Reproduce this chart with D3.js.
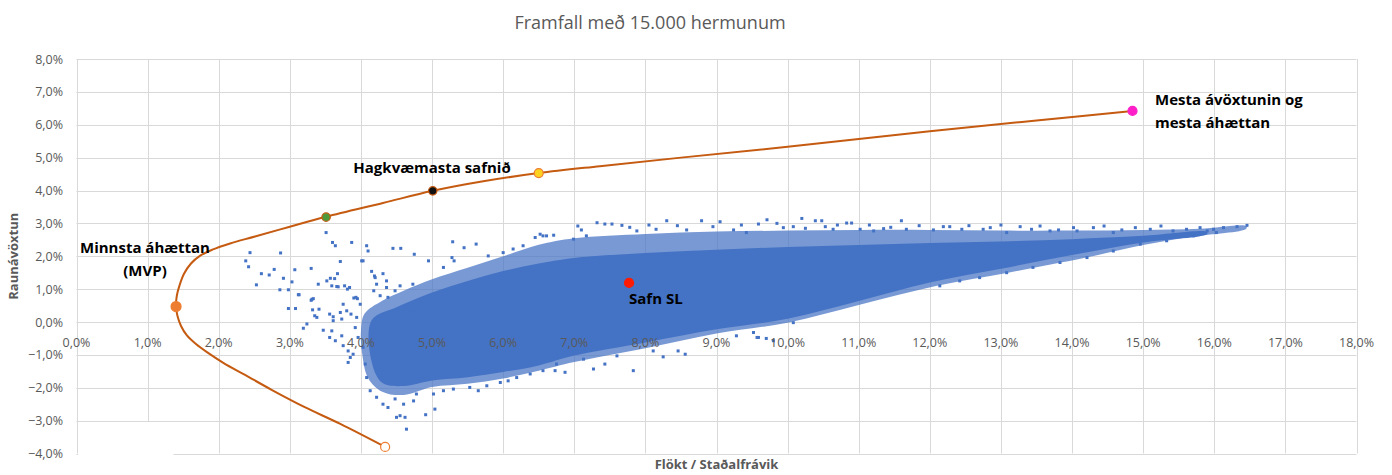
<!DOCTYPE html>
<html>
  <head>
    <meta charset="utf-8" />
    <script src="https://cdn.jsdelivr.net/npm/d3@7"></script>
    <style>
      body {
        margin: 0;
        background: #ffffff;
      }
      svg text {
        font-family: "Open Sans", "Noto Sans", sans-serif;
      }
      .tick-label {
        font-size: 12.5px;
        fill: #595959;
      }
      .axis-title {
        font-size: 13px;
        font-weight: bold;
        fill: #595959;
      }
      .note {
        font-size: 15px;
        font-weight: bold;
        fill: #000000;
      }
    </style>
  </head>
  <body>
    <svg id="chart" width="1392" height="475"></svg>

    <script>
      // ticks (percent)
      const xTicks = d3.range(0, 19);
      const yTicks = d3.range(-4, 9);

      // efficient frontier: lower end -> MVP -> top right
      const frontier = [
        [4.34, -3.80], [3.71, -3.10], [3.21, -2.59], [2.75, -2.07], [2.37, -1.61],
        [2.07, -1.25], [1.85, -0.94], [1.68, -0.67], [1.55, -0.40], [1.47, -0.12],
        [1.42, 0.18], [1.40, 0.47], [1.41, 0.79], [1.45, 1.12], [1.51, 1.46],
        [1.61, 1.78], [1.74, 2.02], [1.91, 2.20], [2.16, 2.39], [2.51, 2.60],
        [3.00, 2.90], [3.51, 3.20], [4.31, 3.62], [5.01, 3.99], [5.72, 4.28],
        [6.50, 4.53], [7.36, 4.74], [8.50, 5.00], [10.0, 5.33], [12.0, 5.80],
        [13.5, 6.13], [14.85, 6.42]
      ];

      // highlighted portfolios
      const markers = [
        { key: "mvp", x: 1.40, y: 0.47 },
        { key: "green", x: 3.51, y: 3.19 },
        { key: "best", x: 5.01, y: 3.99 },
        { key: "yellow", x: 6.50, y: 4.53 },
        { key: "max", x: 14.85, y: 6.42 },
        { key: "end", x: 4.34, y: -3.80 },
        { key: "sl", x: 7.77, y: 1.19 }
      ];

      // simulated portfolios: outline of the busy part of the cloud
      const cloudOuter = [
        [4.05, 0.25], [4.3, 0.65], [4.6, 0.95], [5.0, 1.3], [5.5, 1.65], [6.0, 2.0],
        [6.5, 2.35], [7.0, 2.55], [8.0, 2.68], [9.0, 2.75], [10.0, 2.78], [11.0, 2.8],
        [12.0, 2.8], [13.0, 2.78], [14.0, 2.78], [15.0, 2.8], [15.8, 2.84], [16.45, 2.92],
        [16.45, 2.84], [15.7, 2.6], [15.0, 2.34], [14.2, 1.96], [13.1, 1.5], [12.1, 1.1],
        [11.0, 0.52], [10.0, -0.02], [9.0, -0.35], [8.0, -0.8], [7.0, -1.22], [6.5, -1.48],
        [6.0, -1.72], [5.5, -1.88], [5.0, -1.98], [4.6, -2.22], [4.3, -2.12], [4.1, -1.7],
        [4.02, -1.0], [4.0, -0.3]
      ];

      // and the nearly solid core of it
      const cloudCore = [
        [4.15, 0.05], [4.5, 0.45], [5.0, 0.9], [5.5, 1.25], [6.0, 1.55], [6.5, 1.78],
        [7.0, 1.95], [8.0, 2.1], [9.0, 2.2], [10.0, 2.28], [11.0, 2.34], [12.0, 2.4],
        [13.0, 2.45], [14.0, 2.52], [15.0, 2.62], [15.9, 2.74],
        [15.9, 2.68], [15.0, 2.42], [14.0, 2.04], [13.0, 1.62], [12.0, 1.2], [11.0, 0.64],
        [10.0, 0.1], [9.0, -0.22], [8.0, -0.62], [7.0, -1.02], [6.5, -1.32], [6.0, -1.52],
        [5.5, -1.68], [5.0, -1.78], [4.6, -1.95], [4.3, -1.85], [4.15, -1.2]
      ];

      // single portfolios outside the busy part
      const strayDots = [
        [2.44, 2.11], [2.38, 1.86], [2.42, 1.68], [2.53, 1.13], [2.60, 1.47], [2.71, 1.43],
        [2.78, 1.60], [2.87, 2.10], [2.91, 1.33], [2.86, 0.98], [2.98, 0.98], [3.03, 1.22],
        [3.07, 1.59], [3.12, 0.83], [2.98, 0.41], [3.08, 0.41], [3.30, 1.63], [3.40, 1.15],
        [3.33, 0.71], [3.30, 0.66], [3.32, 0.37], [3.35, 0.19], [3.41, 0.39], [3.24, -0.06],
        [3.19, -0.19], [3.52, 1.25], [3.57, 1.33], [3.63, 1.32], [3.67, 1.47], [3.59, 1.10],
        [3.66, 1.08], [3.71, 1.84], [3.84, 1.05], [3.90, 0.73], [3.95, 0.71], [3.99, 0.54],
        [4.01, 1.86], [4.10, 2.16], [4.19, 1.40], [4.22, 1.15], [4.31, 1.47], [4.36, 1.25],
        [4.18, 0.95], [4.27, 0.80], [4.36, 1.05], [4.48, 0.95], [4.55, 1.10], [3.56, 0.24],
        [3.61, 0.16], [3.73, 0.09], [3.59, -0.27], [3.56, -0.47], [3.64, -0.57], [3.47, -0.25],
        [3.73, -0.42], [3.75, -0.72], [3.82, -0.88], [3.85, -1.08], [3.89, -0.98], [3.82, -1.23],
        [3.75, 0.54], [3.80, 0.34], [3.94, 0.14], [3.92, -0.17], [3.96, -0.47], [4.03, -0.77],
        [4.06, -1.28], [4.08, -1.69], [4.13, -2.09], [4.22, -2.29], [4.31, -2.50], [4.38, -2.60],
        [4.50, -2.90], [4.55, -2.85], [4.62, -2.90], [4.64, -3.26], [4.48, -2.34], [4.60, -2.50],
        [4.74, -2.40], [4.78, -2.19], [4.91, -2.82], [5.04, -2.65], [5.02, -2.19], [5.16, -2.09],
        [5.30, -2.04], [5.53, -1.99], [5.65, -2.09], [5.77, -1.94], [5.96, -1.84], [6.07, -1.79],
        [6.19, -1.69], [6.38, -1.58], [6.56, -1.48], [3.51, 2.72], [3.60, 2.42], [3.64, 2.32],
        [3.87, 2.42], [4.08, 2.32], [4.45, 2.24], [4.56, 2.24], [4.75, 2.06], [4.95, 1.86],
        [5.29, 2.44], [5.45, 2.26], [5.62, 2.37], [5.31, 1.86], [5.16, 1.66], [5.28, 1.96],
        [5.79, 2.01], [6.00, 2.11], [6.14, 2.22], [6.28, 2.32], [6.45, 2.57], [6.56, 2.62],
        [4.03, 1.86], [4.15, 1.54], [4.20, 1.35], [4.38, 0.75], [4.73, 1.15], [4.67, 0.34],
        [4.76, 0.36], [3.93, 0.75], [3.71, 0.29], [3.86, 0.24], [3.61, 0.04], [3.77, 1.10],
        [3.81, 1.00], [3.68, 1.07], [3.13, 0.83], [3.31, 0.69], [3.38, 0.14],
        [7.32, 3.02], [7.43, 2.98], [7.53, 2.98], [7.67, 2.94], [8.30, 3.08], [8.79, 3.08],
        [9.05, 3.05], [9.71, 3.11], [10.20, 3.15], [10.39, 3.08], [10.48, 3.08], [10.83, 3.01],
        [10.90, 3.01], [11.60, 3.08], [12.19, 2.90], [12.28, 2.90], [7.10, 2.80], [7.17, 2.62],
        [6.99, 2.52], [6.71, 2.64], [6.61, 2.62], [7.88, 2.77], [8.58, 2.80], [9.24, 2.80],
        [9.42, 2.72], [9.59, 2.98], [9.94, 2.87], [10.08, 2.90], [10.53, 2.90], [10.64, 2.82],
        [11.02, 2.82], [11.21, 2.77], [11.35, 2.84], [11.67, 2.82], [12.05, 2.80], [6.52, 2.67],
        [12.45, 2.82], [12.75, 2.82], [12.85, 2.87], [13.08, 2.72], [13.27, 2.90], [13.43, 2.82],
        [13.69, 2.77], [13.81, 2.80], [14.02, 2.87], [14.07, 2.77], [14.30, 2.87], [14.58, 2.72],
        [14.70, 2.80], [14.89, 2.87], [15.10, 2.82], [15.42, 2.77], [15.61, 2.82], [15.80, 2.87],
        [15.99, 2.82], [16.13, 2.87], [16.32, 2.90], [16.46, 2.94], [15.90, 2.77],
        [7.05, 2.92], [7.78, 2.88], [8.05, 2.95], [8.45, 2.93], [8.95, 2.90], [9.35, 2.95],
        [9.85, 3.00], [10.70, 2.95], [11.15, 2.95], [11.85, 2.93], [12.55, 2.93], [13.0, 2.95],
        [13.55, 2.92], [14.45, 2.92], [15.25, 2.92], [8.15, 2.82], [10.25, 2.85], [11.45, 2.88],
        [12.14, 1.10], [12.42, 1.25], [12.70, 1.35], [13.08, 1.50], [13.45, 1.66], [13.83, 1.81],
        [14.21, 1.96], [14.58, 2.16], [14.96, 2.37], [15.33, 2.47], [15.71, 2.62], [16.03, 2.72],
        [6.73, -1.48], [6.87, -1.53], [6.75, -1.28], [7.13, -1.13], [7.27, -1.43], [7.43, -1.28],
        [7.83, -1.48], [7.60, -1.03], [8.25, -1.06], [8.11, -0.88], [8.56, -0.98], [8.46, -0.88],
        [9.28, -0.42], [9.57, -0.47], [9.70, -0.50], [9.52, -0.32], [9.80, -0.57], [9.59, -0.47],
        [10.08, -0.02]
      ];

      const svg = d3.select("#chart");

      const x = d3.scaleLinear().domain([0, 18]).range([76.5, 1356.5]);
      const y = d3.scaleLinear().domain([-4, 8]).range([453.5, 59]);

      const pct = (v) => d3.format(".1f")(v).replace(".", ",") + "%";

      // title
      svg.append("text")
        .attr("x", 650).attr("y", 29)
        .attr("text-anchor", "middle")
        .style("font-size", "18px")
        .style("fill", "#595959")
        .text("Framfall með 15.000 hermunum");

      // grid
      const grid = svg.append("g").attr("stroke", "#d9d9d9").attr("stroke-width", 1);
      grid.selectAll("line.h").data(yTicks).join("line")
        .attr("x1", x(0)).attr("x2", x(18))
        .attr("y1", (d) => Math.round(y(d)) + 0.5).attr("y2", (d) => Math.round(y(d)) + 0.5);
      grid.selectAll("line.v").data(xTicks).join("line")
        .attr("x1", (d) => Math.round(x(d)) + 0.5).attr("x2", (d) => Math.round(x(d)) + 0.5)
        .attr("y1", y(8)).attr("y2", y(-4));

      // white box left over in the lower left corner
      svg.append("rect")
        .attr("x", x(0) + 1.5).attr("y", y(-3) + 1.5)
        .attr("width", 172 - x(0)).attr("height", y(-4) - y(-3) + 2)
        .attr("fill", "#ffffff");

      // cloud of simulated portfolios
      const area = d3.line().x((d) => x(d[0])).y((d) => y(d[1]))
        .curve(d3.curveCatmullRomClosed.alpha(0.5));
      svg.append("path").attr("d", area(cloudOuter))
        .attr("fill", "#4472c4").attr("fill-opacity", 0.72);
      svg.append("path").attr("d", area(cloudCore))
        .attr("fill", "#4472c4");
      svg.append("g").selectAll("rect").data(strayDots).join("rect")
        .attr("x", (d) => x(d[0]) - 1.5).attr("y", (d) => y(d[1]) - 1.5)
        .attr("width", 3).attr("height", 3)
        .attr("fill", "#4472c4");

      // frontier
      const line = d3.line().x((d) => x(d[0])).y((d) => y(d[1]))
        .curve(d3.curveCatmullRom.alpha(0.5));
      svg.append("path").attr("d", line(frontier))
        .attr("fill", "none").attr("stroke", "#c55a11").attr("stroke-width", 2);

      // axis labels on top of the dots
      svg.append("g").selectAll("text").data(yTicks).join("text")
        .attr("class", "tick-label")
        .attr("x", 63).attr("y", (d) => y(d) + 4.5)
        .attr("text-anchor", "end")
        .text(pct);
      svg.append("g").selectAll("text").data(xTicks).join("text")
        .attr("class", "tick-label")
        .attr("x", (d) => x(d)).attr("y", y(0) + 25)
        .attr("text-anchor", "middle")
        .text(pct);

      // markers
      const markerStyle = {
        mvp: { r: 5, fill: "#ed7d31", stroke: "#ed7d31" },
        green: { r: 4.2, fill: "#4e9a3a", stroke: "#c55a11" },
        best: { r: 4.2, fill: "#111111", stroke: "#c55a11" },
        yellow: { r: 4.5, fill: "#ffd21f", stroke: "#ed7d31" },
        max: { r: 4.5, fill: "#ff1fc8", stroke: "#ff1fc8" },
        end: { r: 4.5, fill: "#ffffff", stroke: "#ed7d31" },
        sl: { r: 4.5, fill: "#ff1a00", stroke: "#ff1a00" }
      };
      svg.append("g").selectAll("circle").data(markers).join("circle")
        .attr("cx", (d) => x(d.x)).attr("cy", (d) => y(d.y))
        .attr("r", (d) => markerStyle[d.key].r)
        .attr("fill", (d) => markerStyle[d.key].fill)
        .attr("stroke", (d) => markerStyle[d.key].stroke)
        .attr("stroke-width", 1.2);

      // notes
      const notes = [
        { text: "Minnsta áhættan", x: 145, y: 253, anchor: "middle" },
        { text: "(MVP)", x: 145, y: 276, anchor: "middle" },
        { text: "Hagkvæmasta safnið", x: 432, y: 173, anchor: "middle" },
        { text: "Mesta ávöxtunin og", x: 1155, y: 105, anchor: "start" },
        { text: "mesta áhættan", x: 1155, y: 128, anchor: "start" },
        { text: "Safn SL", x: 629, y: 304, anchor: "start" }
      ];
      svg.append("g").selectAll("text").data(notes).join("text")
        .attr("class", "note")
        .attr("x", (d) => d.x).attr("y", (d) => d.y)
        .attr("text-anchor", (d) => d.anchor)
        .text((d) => d.text);

      // axis titles
      svg.append("text")
        .attr("class", "axis-title")
        .attr("transform", "translate(18," + (y(8) + y(-4)) / 2 + ") rotate(-90)")
        .attr("text-anchor", "middle")
        .text("Raunávöxtun");
      svg.append("text")
        .attr("class", "axis-title")
        .attr("x", (x(0) + x(18)) / 2).attr("y", 469)
        .attr("text-anchor", "middle")
        .text("Flökt / Staðalfrávik");
    </script>
  </body>
</html>
